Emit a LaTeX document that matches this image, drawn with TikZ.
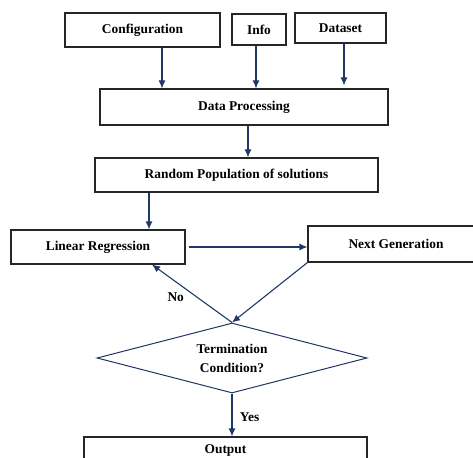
\documentclass[tikz,border=0pt]{standalone}
\usepackage{fontspec}
\setmainfont{Liberation Serif}
\usetikzlibrary{shapes.geometric,arrows.meta}

\definecolor{arrblue}{HTML}{1F3864}

\tikzset{   procbox/.style={draw=black!85,rectangle,fill=white,line width=1.1pt,inner sep=0pt,font=\bfseries\fontsize{13.4}{15}\selectfont},
            decbox/.style={draw=arrblue,diamond,fill=white,aspect=3.86,line width=1pt,inner sep=0pt,minimum width=270pt,minimum height=70pt,align=center,font=\bfseries\fontsize{13.4}{19}\selectfont},
            arr/.style={draw=arrblue,line width=1.1pt,-{Latex[length=8pt,width=7pt]}},
            lbl/.style={font=\bfseries\fontsize{13.4}{15}\selectfont},
}

\begin{document}
\begin{tikzpicture}[x=1pt,y=-1pt]
    \useasboundingbox (0,0) rectangle (473,457);
    \clip (0,0) rectangle (473,457);

    \node[procbox,minimum width=155pt,minimum height=34pt] (cfg) at (142.5,30) {Configuration}; % input boxes
    \node[procbox,minimum width=54pt,minimum height=31pt] (info) at (259,29.5) {Info};
    \node[procbox,minimum width=91pt,minimum height=30pt] (dset) at (340.5,28) {Dataset};

    \node[procbox,minimum width=288pt,minimum height=36pt] (dproc) at (244,107) {Data Processing};
    \node[procbox,minimum width=283pt,minimum height=34pt] (rpop) at (236.5,175) {Random Population of solutions};

    \node[procbox,minimum width=174pt,minimum height=34pt] (linreg) at (98,247) {Linear Regression}; % loop
    \node[procbox,minimum width=176pt,minimum height=36pt] (nextgen) at (396,244) {Next Generation};
    \node[decbox] (term) at (232,358) {Termination\\Condition?};

    \node[procbox,minimum width=283pt,minimum height=26pt] (outp) at (225.5,450) {Output};

    \draw[arr] ([xshift=19.5pt]cfg.south) -- ([xshift=19.5pt]cfg.south |- dproc.north); % draw arrows
    \draw[arr] ([xshift=-3pt]info.south) -- ([xshift=-3pt]info.south |- dproc.north);
    \draw[arr,shorten >=3pt] ([xshift=3.5pt]dset.south) -- ([xshift=3.5pt]dset.south |- dproc.north);
    \draw[arr] ([xshift=4pt]dproc.south) -- ([xshift=4pt]dproc.south |- rpop.north);
    \draw[arr] ([xshift=51pt]linreg.north |- rpop.south) -- ([xshift=51pt]linreg.north);
    \draw[arr,shorten <=3pt] (linreg.east) -- (linreg.east -| nextgen.west);
    \draw[arr] (nextgen.south west) -- (term.north);
    \draw[arr] (term.north) -- node[lbl,pos=0.44,left=9pt] (no) {No} ([xshift=54pt]linreg.south);
    \draw[arr] (term.south) -- node[lbl,right=4pt,pos=0.55] (yes) {Yes} (term.south |- outp.north);
\end{tikzpicture}
\end{document}
